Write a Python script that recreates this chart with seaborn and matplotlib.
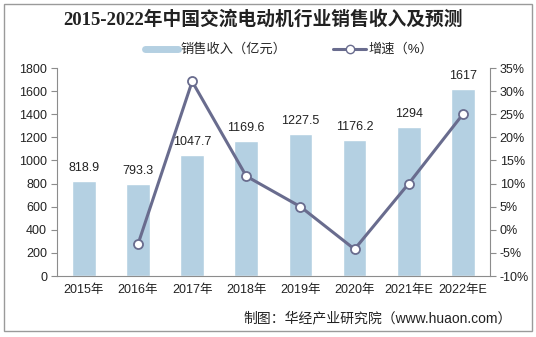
import matplotlib
matplotlib.use("Agg")
import matplotlib.pyplot as plt
import seaborn as sns
import pandas as pd
import numpy as np
from matplotlib.patches import Rectangle
from matplotlib.lines import Line2D
from matplotlib.ticker import FuncFormatter, FixedLocator

years = ["2015年", "2016年", "2017年", "2018年", "2019年", "2020年", "2021年E", "2022年E"]
revenue = [818.9, 793.3, 1047.7, 1169.6, 1227.5, 1176.2, 1294, 1617]
growth = [np.nan, -3.1, 32.1, 11.6, 5.0, -4.2, 10.0, 25.0]
rev_labels = ["818.9", "793.3", "1047.7", "1169.6", "1227.5", "1176.2", "1294", "1617"]

title = "2015-2022年中国交流电动机行业销售收入及预测"
legend_bar = "销售收入（亿元）"
legend_line = "增速（%）"
source = "制图：华经产业研究院（www.huaon.com）"

sns.set_style("white")
plt.rcParams["font.family"] = ["Liberation Sans", "Noto Sans CJK SC", "DejaVu Sans"]

bar_color = "#B4D0E2"
line_color = "#696C8E"
axis_color = "#8C8C8C"

df = pd.DataFrame({"year": years, "revenue": revenue, "growth": growth})

fig = plt.figure(figsize=(5.36, 3.37), dpi=100)
ax = fig.add_axes([0.106, 0.181, 0.808, 0.617])

sns.barplot(data=df, x="year", y="revenue", order=years, color=bar_color,
            width=0.44, saturation=1, ax=ax)
ax.set_ylim(0, 1800)
ax.set_yticks(range(0, 1801, 200))
ax.set_xlim(-0.5, len(years) - 0.5)
ax.set_xlabel("")
ax.set_ylabel("")

for p, lab in zip(ax.patches, rev_labels):
    ax.annotate(lab, (p.get_x() + p.get_width() / 2, p.get_height()),
                xytext=(0, 5), textcoords="offset points", ha="center", va="bottom",
                fontsize=9, color="#222222")

ax2 = ax.twinx()
dfl = df.dropna()
sns.pointplot(data=dfl, x="year", y="growth", order=years, color=line_color,
              markers="o", linewidth=2.2, markersize=6.5, ax=ax2)
for coll in ax2.collections:
    coll.set_facecolor("white")
    coll.set_edgecolor(line_color)
    coll.set_linewidth(1.3)
for ln in ax2.lines:
    ln.set_markerfacecolor("white")
    ln.set_markeredgecolor(line_color)
    ln.set_markeredgewidth(1.3)
ax2.set_ylim(-10, 35)
ax2.set_yticks(range(-10, 36, 5))
ax2.yaxis.set_major_formatter(FuncFormatter(lambda v, _: f"{int(v)}%"))
ax2.set_ylabel("")
ax2.set_xlabel("")
ax2.set_xlim(-0.5, len(years) - 0.5)

for a in (ax, ax2):
    for s in a.spines.values():
        s.set_color(axis_color)
        s.set_linewidth(0.8)
    a.spines["top"].set_visible(False)
    a.tick_params(axis="y", labelsize=9, colors="#222222", length=4, width=0.8,
                  color=axis_color, direction="out", pad=3)
ax.spines["right"].set_visible(False)
ax2.spines["left"].set_visible(False)
ax2.spines["bottom"].set_visible(False)

ax.tick_params(axis="x", which="major", length=0, labelsize=9, colors="#222222", pad=6)
ax.xaxis.set_minor_locator(FixedLocator(np.arange(-0.5, len(years), 1.0)))
ax.tick_params(axis="x", which="minor", length=4, width=0.8, color=axis_color, direction="out")

fig.text(0.49, 0.943, title, ha="center", va="center", fontsize=13.5, fontweight="bold",
         family=["Liberation Serif", "Noto Sans CJK SC"], color="#222222")

handles = [Line2D([0], [0], color=bar_color, lw=5),
           Line2D([0], [0], color=line_color, lw=2.2, marker="o", markersize=6,
                  markerfacecolor="white", markeredgecolor=line_color)]
fig.legend(handles, [legend_bar, legend_line], loc="center", bbox_to_anchor=(0.54, 0.852),
           ncol=2, frameon=False, fontsize=9.5, handlelength=2.5, columnspacing=3.5,
           handletextpad=0.2)

fig.text(0.955, 0.056, source, ha="right", va="center", fontsize=10, color="#222222")

fig.patches.append(Rectangle((0.008, 0.018), 0.984, 0.97, transform=fig.transFigure,
                             fill=False, edgecolor="#9A9A9A", linewidth=1.0))

fig.savefig("out.png", dpi=100)
